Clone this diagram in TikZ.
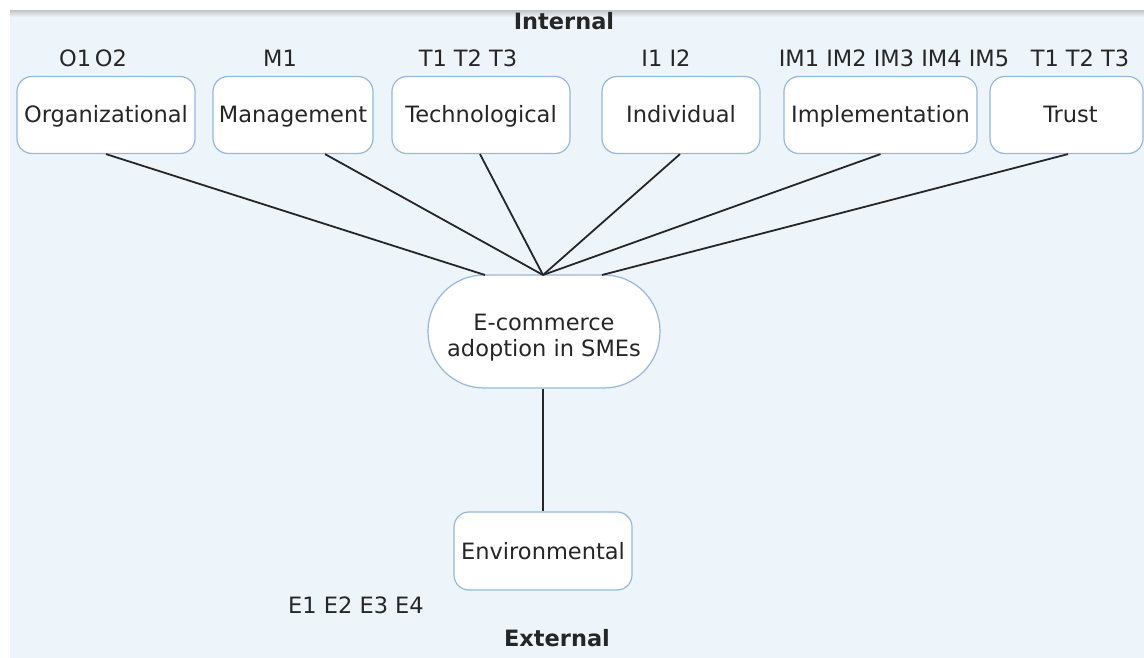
\documentclass[tikz,border=0pt]{standalone}
\usepackage{fontspec}
\setmainfont{DejaVu Sans}
\usetikzlibrary{calc}
\definecolor{bgblue}{RGB}{238,245,250}
\definecolor{edgeblue}{RGB}{150,184,222}
\definecolor{shadowgray}{RGB}{200,203,206}
\begin{document}
\begin{tikzpicture}[x=1pt,y=-1pt,
  txt/.style={font=\fontsize{22.5}{27}\selectfont, text=black!85},
  bold/.style={font=\fontsize{22.5}{27}\selectfont\bfseries, text=black!85},
  box/.style={txt, draw=edgeblue, line width=1.2pt, fill=white, rounded corners=15pt, inner sep=0pt, text height=18pt, text depth=2pt},
  hubbox/.style={txt, draw=edgeblue, line width=1.2pt, fill=white, rounded corners=56pt, inner sep=0pt, align=center},
  link/.style={draw=black!85, line width=1.8pt}]
\useasboundingbox (0,0) rectangle (1144,658);
\fill[white] (0,0) rectangle (1144,658);
\fill[bgblue] (10,11) rectangle (1144,658);
\shade[top color=shadowgray, bottom color=bgblue] (10,11) rectangle (1144,17);

\node[bold] (internal) at (564,21) {Internal};

\node[box, minimum width=178pt, minimum height=77pt] (org) at (106,115) {Organizational};
\node[box, minimum width=160pt, minimum height=77pt] (mgt) at (293,115) {Management};
\node[box, minimum width=178pt, minimum height=77pt] (tec) at (481,115) {Technological};
\node[box, minimum width=158pt, minimum height=77pt] (ind) at (681,115) {Individual};
\node[box, minimum width=193pt, minimum height=77pt] (imp) at (880.5,115) {Implementation};
\node[box, minimum width=153pt, minimum height=77pt, text width=153pt, align=center] (tru) at (1066.5,115) {\hspace*{8pt}Trust};

\node[txt] (lorg) at (93,58) {O1\,O2};
\node[txt] (lmgt) at (280,58) {M1};
\node[txt] (ltec) at (468,58) {T1 T2 T3};
\node[txt] (lind) at (666,58) {I1 I2};
\node[txt] (limp) at (894,58) {IM1 IM2 IM3 IM4 IM5};
\node[txt] (ltru) at (1080,58) {T1 T2 T3};

\node[hubbox, minimum width=232pt, minimum height=113pt] (hub) at (544,331.5) {\rule{0pt}{28pt}E-commerce\\[-1pt]adoption in SMEs};
\coordinate (hubL) at (485,275);
\coordinate (hubC) at (543,275);
\coordinate (hubR) at (602,275);

\draw[link] (org.south) -- (hubL);
\draw[link] ($(mgt.south)+(32,0)$) -- (hubC);
\draw[link] ($(tec.south)+(-1,0)$) -- (hubC);
\draw[link] ($(ind.south)+(-1,0)$) -- (hubC);
\draw[link] ($(imp.south)+(0,0)$) -- (hubC);
\draw[link] ($(tru.south)+(1.5,0)$) -- (hubR);

\node[box, minimum width=178pt, minimum height=78pt] (env) at (543,551) {Environmental};
\draw[link] ($(hub.south)+(-1,0)$) -- (env.north);

\node[txt] (lenv) at (356,605) {E1 E2 E3 E4};
\node[bold] (external) at (557,638) {External};
\end{tikzpicture}
\end{document}
